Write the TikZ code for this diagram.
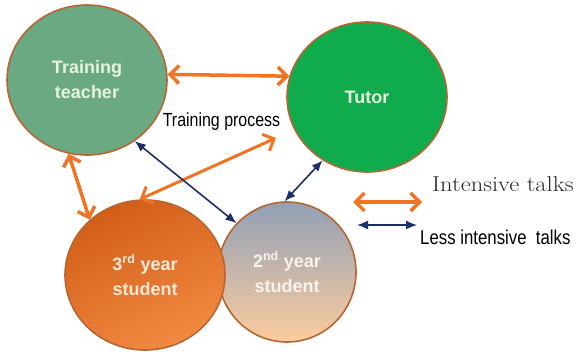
\documentclass[tikz,border=0pt]{standalone}
\usepackage{fontspec}
\usepackage{tikz}
\usetikzlibrary{positioning, arrows.meta, shapes.geometric}

\newfontfamily\boxfont{Liberation Sans}
\newfontfamily\narrowfont[FakeStretch=0.84]{Liberation Sans}
\newfontfamily\legendserif[FakeStretch=1.14]{Latin Modern Roman}

\definecolor{rimbrown}{RGB}{182,102,52}
\definecolor{sagegreen}{RGB}{106,169,130}
\definecolor{tutorgreen}{RGB}{16,171,76}
\definecolor{talkorange}{RGB}{240,116,36}
\definecolor{talknavy}{RGB}{30,46,105}
\definecolor{orangedark}{RGB}{210,94,24}
\definecolor{orangelight}{RGB}{242,138,66}
\definecolor{greyblue}{RGB}{146,160,182}
\definecolor{peachmid}{RGB}{214,184,168}
\definecolor{peach}{RGB}{252,204,158}

\begin{document}
\begin{tikzpicture}[
    x=1pt, y=-1pt,
    person/.style={ellipse, draw=rimbrown, line width=1.6pt, inner sep=0pt,
                   minimum width=160pt, minimum height=150pt, align=center,
                   font=\boxfont\bfseries\fontsize{18}{25}\selectfont},
    talk/.style={{Straight Barb[length=9pt, width=18pt]}-{Straight Barb[length=9pt, width=18pt]},
                 line width=3.5pt, talkorange, line join=round, line cap=round},
    lesstalk/.style={{Latex[length=11pt, width=9pt]}-{Latex[length=11pt, width=9pt]},
                     line width=1.6pt, talknavy}
]
    \useasboundingbox (0,0) rectangle (578,351);

    % People
    \node[person, fill=sagegreen, text={rgb,255:red,230;green,244;blue,222}] (teacher) at (87,80) {Training\\teacher};
    \node[person, fill=tutorgreen, text={rgb,255:red,230;green,245;blue,224}] (tutor) at (367,97) {Tutor};
    \node[person, minimum width=138pt, minimum height=140pt,
          top color=greyblue, middle color=peachmid, bottom color=peach,
          text={rgb,255:red,248;green,243;blue,238}] (second) at (287,272) {2\textsuperscript{nd} year\\student};
    \node[person, top color=orangedark, bottom color=orangelight, shading angle=25,
          text={rgb,255:red,251;green,233;blue,214}] (third) at (145,275) {3\textsuperscript{rd} year\\student};

    % Talks between them
    \draw[talk] (teacher.4) -- (tutor.165);
    \draw[talk] (teacher.256) -- (third.135);
    \draw[talk, line width=3pt, shorten >=20pt] (third.94) -- (tutor);
    \draw[lesstalk] (teacher.308) -- (second.136);
    \draw[lesstalk] (tutor.235) -- (second.92);

    \node[font=\narrowfont\fontsize{19}{22}\selectfont, anchor=base, inner sep=0pt] (process) at (221.5,126) {Training process};

    % Legend
    \coordinate (intA) at (353,202);
    \coordinate (intB) at (422,202);
    \coordinate (lessA) at (357,225);
    \coordinate (lessB) at (417,225);
    \draw[talk] (intA) -- (intB);
    \draw[lesstalk] (lessA) -- (lessB);
    \node[font=\legendserif\fontsize{21.5}{24}\selectfont, anchor=base west, inner sep=0pt, text={rgb,255:red,40;green,40;blue,40}] (intlabel) at (432,191) {Intensive talks};
    \node[font=\narrowfont\fontsize{20}{22}\selectfont, anchor=base west, inner sep=0pt] (lesslabel) at (420,244) {Less intensive\ \ talks};

\end{tikzpicture}
\end{document}
